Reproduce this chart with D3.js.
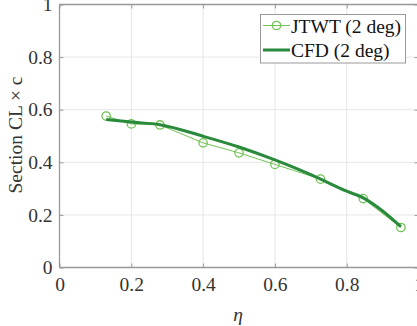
<!DOCTYPE html>
<html><head><meta charset="utf-8">
<script src="https://cdn.jsdelivr.net/npm/d3@7"></script>
<style>body{margin:0;background:#fff}svg{display:block}svg text{font-family:"Liberation Serif",serif !important;font-size:19.5px}</style>
</head><body>
<script>
const jtwtEta = [0.13, 0.20, 0.28, 0.40, 0.50, 0.60, 0.727, 0.846, 0.951];
const jtwtCl  = [0.576, 0.546, 0.542, 0.474, 0.436, 0.392, 0.336, 0.262, 0.152];
const cfdEta  = [0.13, 0.20, 0.28, 0.40, 0.50, 0.60, 0.70, 0.80, 0.85, 0.90, 0.951];
const cfdCl   = [0.563, 0.553, 0.543, 0.499, 0.458, 0.409, 0.353, 0.290, 0.262, 0.215, 0.155];
const xTicks = [0, 0.2, 0.4, 0.6, 0.8, 1];
const yTicks = [0, 0.2, 0.4, 0.6, 0.8, 1];
const seriesNames = ["JTWT (2 deg)", "CFD (2 deg)"];

const W = 417, H = 326;
const L = 59.5, R = 418.5, T = 4.5, B = 267.5;
const svg = d3.select("body").append("svg").attr("width", W).attr("height", H);
const x = d3.scaleLinear().domain([0, 1]).range([L, R]);
const y = d3.scaleLinear().domain([0, 1]).range([B, T]);
const cLight = "#72c255", cDark = "#2a8a3c";

// grid
const g = svg.append("g");
g.selectAll(".gx").data(xTicks.slice(1, -1)).join("line")
  .attr("x1", d => x(d)).attr("x2", d => x(d)).attr("y1", T).attr("y2", B)
  .attr("stroke", "#e6e6e6").attr("stroke-width", 1);
g.selectAll(".gy").data(yTicks.slice(1, -1)).join("line")
  .attr("y1", d => y(d)).attr("y2", d => y(d)).attr("x1", L).attr("x2", R)
  .attr("stroke", "#e6e6e6").attr("stroke-width", 1);

// axes
const axB = d3.axisBottom(x).tickValues(xTicks).tickSize(-4).tickPadding(10).tickFormat(d3.format("~g"));
const axL = d3.axisLeft(y).tickValues(yTicks).tickSize(-4).tickPadding(7).tickFormat(d3.format("~g"));
const axT = d3.axisTop(x).tickValues(xTicks).tickSize(-4).tickFormat("");
const axR = d3.axisRight(y).tickValues(yTicks).tickSize(-4).tickFormat("");
function style(sel) {
  sel.attr("font-family", null).attr("font-size", null);
  sel.select(".domain").attr("stroke", "#999").attr("stroke-width", 1.3);
  sel.selectAll(".tick line").attr("stroke", "#999");
  sel.selectAll("text").attr("fill", "#333");
}
svg.append("g").attr("transform", `translate(0,${B})`).call(axB).call(style).call(s => s.select(".domain").attr("d", `M${L},0H${R}`));
svg.append("g").attr("transform", `translate(${L},0)`).call(axL).call(style).call(s => s.select(".domain").attr("d", `M0,${B}V${T}`));
svg.append("g").attr("transform", `translate(0,${T})`).call(axT).call(style).call(s => s.select(".domain").attr("d", `M${L},0H${R}`));
svg.append("g").attr("transform", `translate(${R},0)`).call(axR).call(style).call(s => s.select(".domain").attr("d", `M0,${B}V${T}`));

// data
const jt = jtwtEta.map((e, i) => [e, jtwtCl[i]]);
const cf = cfdEta.map((e, i) => [e, cfdCl[i]]);
const line = d3.line().x(d => x(d[0])).y(d => y(d[1]));
svg.append("path").datum(jt).attr("d", line).attr("fill", "none").attr("stroke", cLight).attr("stroke-width", 1);
svg.selectAll(".pt").data(jt).join("circle")
  .attr("cx", d => x(d[0])).attr("cy", d => y(d[1])).attr("r", 4.2)
  .attr("fill", "none").attr("stroke", cLight).attr("stroke-width", 1.3);
svg.append("path").datum(cf).attr("d", d3.line().curve(d3.curveMonotoneX).x(d => x(d[0])).y(d => y(d[1])))
  .attr("fill", "none").attr("stroke", cDark).attr("stroke-width", 3);

// labels
svg.append("text").attr("transform", `translate(22,135) rotate(-90)`).attr("text-anchor", "middle")
  .attr("fill", "#333").text("Section CL × c");
svg.append("text").attr("x", 238).attr("y", 321).attr("text-anchor", "middle")
  .style("font-style", "italic").attr("fill", "#333").text("η");

// legend
const lg = svg.append("g");
lg.append("rect").attr("x", 260.5).attr("y", 14.5).attr("width", 145).attr("height", 48.5)
  .attr("fill", "#fff").attr("stroke", "#999").attr("stroke-width", 1);
const rows = [25.5, 50];
lg.append("line").attr("x1", 263).attr("x2", 290).attr("y1", rows[0]).attr("y2", rows[0]).attr("stroke", cLight).attr("stroke-width", 1);
lg.append("circle").attr("cx", 276.5).attr("cy", rows[0]).attr("r", 4.2).attr("fill", "none").attr("stroke", cLight).attr("stroke-width", 1.3);
lg.append("line").attr("x1", 263).attr("x2", 290).attr("y1", rows[1]).attr("y2", rows[1]).attr("stroke", cDark).attr("stroke-width", 3);
lg.selectAll(".lt").data(seriesNames).join("text")
  .attr("x", 291).attr("y", (d, i) => rows[i] + 7)
  .attr("fill", "#111").text(d => d);
</script>
</body></html>
